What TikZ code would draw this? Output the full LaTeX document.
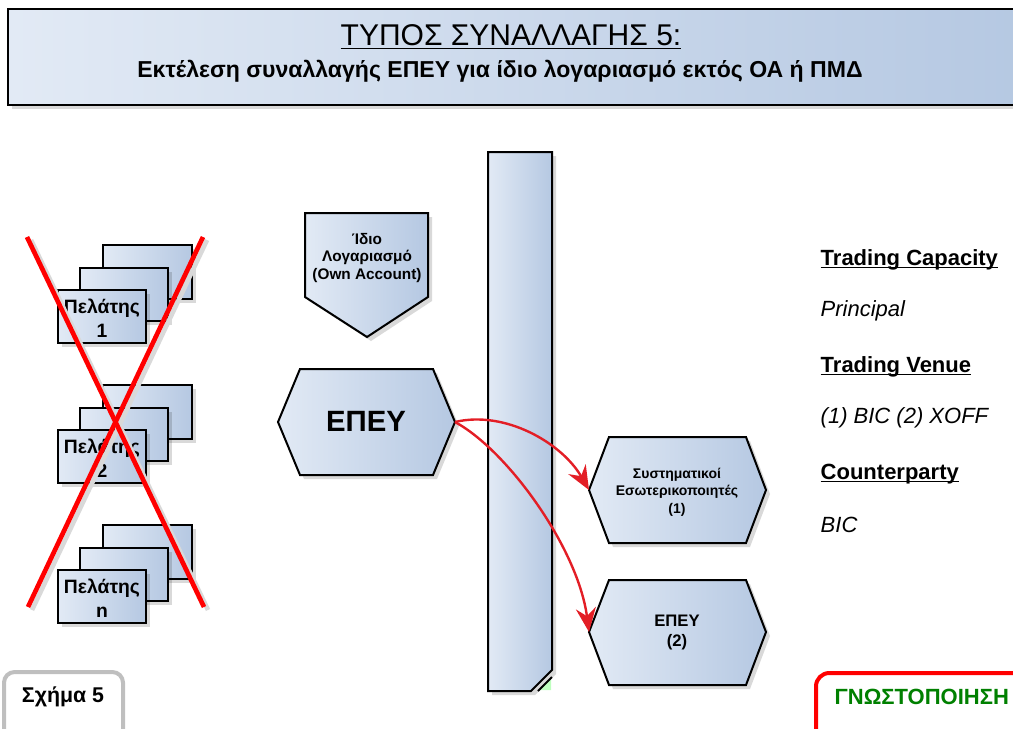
\documentclass[tikz,border=0pt]{standalone}
\usepackage{fontspec}
\setmainfont{Liberation Sans}
\usepackage{xcolor}
\usetikzlibrary{arrows.meta,shadows}

\definecolor{boxlight}{HTML}{E2EAF5}
\definecolor{boxdark}{HTML}{B5C8E2}
\definecolor{flowred}{HTML}{E31E26}
\definecolor{notegreen}{HTML}{008000}

\newcommand{\baseul}[1]{\underline{\smash{#1}}}

\tikzset{
  bluebox/.style={draw=black, line width=1.5pt, line join=miter, left color=boxlight, right color=boxdark,
    drop shadow={shadow xshift=3pt, shadow yshift=-3pt, fill=black, opacity=0.15}},
  crossline/.style={draw=red, line width=3.5pt},
  crossshade/.style={draw=black!15, line width=3.5pt},
  flow/.style={draw=flowred, line width=1.8pt, -{Stealth[length=18pt,width=15pt,inset=6pt]}},
  boxtext/.style={font=\bfseries, align=center, inner sep=0pt},
  infohead/.style={anchor=base west, font=\fontsize{16.5}{19}\selectfont\bfseries},
  infoval/.style={anchor=west, font=\fontsize{16.5}{19}\selectfont\itshape}
}

\begin{document}
\begin{tikzpicture}[x=0.75pt,y=-0.75pt]
\useasboundingbox (0,0) rectangle (1013,728);

% title
\draw[bluebox] (8,9) rectangle (1030,105);
\node (title) at (511,37) {\fontsize{22.5}{26}\selectfont\underline{ΤΥΠΟΣ ΣΥΝΑΛΛΑΓΗΣ 5:}};
\node (subtitle) at (500,71) {\fontsize{17.3}{20}\selectfont\bfseries Εκτέλεση συναλλαγής ΕΠΕΥ για ίδιο λογαριασμό εκτός ΟΑ ή ΠΜΔ};

% clients
\foreach \y/\n in {290/1,430/2,570/n}{
  \draw[bluebox] (103,\y-45) rectangle ++(89,54);
  \draw[bluebox] (80,\y-22) rectangle ++(88,53);
  \draw[bluebox] (58,\y) rectangle ++(88,53);
  \node[boxtext, font=\fontsize{14.5}{18}\selectfont\bfseries] (client\n) at (102,\y+28) {Πελάτης\\\n};
}

% cross
\draw[crossshade] (31,240) -- (208,610);
\draw[crossshade] (207,240) -- (32,610);
\draw[crossline] (27,237) -- (204,607);
\draw[crossline] (203,237) -- (28,607);

% own account
\draw[bluebox] (305,213) -- (428,213) -- (428,297) -- (367,337) -- (305,297) -- cycle;
\node[boxtext, font=\fontsize{11.5}{13}\selectfont\bfseries] (own) at (367,258) {Ίδιο\\Λογαριασμό\\(Own Account)};

% firm
\draw[bluebox] (278,422) -- (300,369) -- (433,369) -- (455,422) -- (433,475) -- (300,475) -- cycle;
\node[boxtext, font=\fontsize{22}{26}\selectfont\bfseries] (epey) at (366,421) {ΕΠΕΥ};
\coordinate (epeyE) at (455,422);

% venue bar
\draw[bluebox] (488,152) -- (552,152) -- (552,670) -- (531,691) -- (488,691) -- cycle;
\fill[green!25!white] (539,690) -- (551,678) -- (551,690) -- cycle;
\draw[line width=1.5pt] (538,691) -- (552,677);

% internaliser
\draw[bluebox] (589,490) -- (609,437) -- (746,437) -- (766,490) -- (746,543) -- (609,543) -- cycle;
\node[boxtext, font=\fontsize{10.5}{13}\selectfont\bfseries] (sysint) at (677,492) {Συστηματικοί\\Εσωτερικοποιητές\\(1)};
\coordinate (sysintW) at (589,490);

% other firm
\draw[bluebox] (589,632) -- (609,580) -- (746,580) -- (766,632) -- (746,685) -- (609,685) -- cycle;
\node[boxtext, font=\fontsize{12.5}{15}\selectfont\bfseries] (epeyb) at (677,632) {ΕΠΕΥ\\(2)};
\coordinate (epeybW) at (589,632);

% flows
\draw[flow] (epeyE) .. controls (505,410) and (562,443) .. (sysintW);
\draw[flow] (epeyE) .. controls (507,450) and (578,548) .. (epeybW);

% info
\node[infohead] (cap) at (816,265) {\baseul{Trading Capacity}};
\node[infoval] (capv) at (816,311) {Principal};
\node[infohead] (ven) at (816,372) {\baseul{Trading Venue}};
\node[infoval] (venv) at (816,418) {(1) BIC (2) XOFF};
\node[infohead] (cpty) at (816,479) {\baseul{Counterparty}};
\node[infoval] (cptyv) at (816,525) {BIC};

% footer
\draw[black!25, line width=3pt, rounded corners=8pt] (4,672) rectangle (123,745);
\node[font=\fontsize{16}{19}\selectfont\bfseries] (fig) at (63,697) {Σχήμα 5};
\draw[red, line width=3pt, rounded corners=10pt] (816,673) rectangle (1040,745);
\node[anchor=west, text=notegreen, font=\fontsize{16.5}{19}\selectfont\bfseries] (note) at (830,697) {ΓΝΩΣΤΟΠΟΙΗΣΗ};

\end{tikzpicture}
\end{document}
